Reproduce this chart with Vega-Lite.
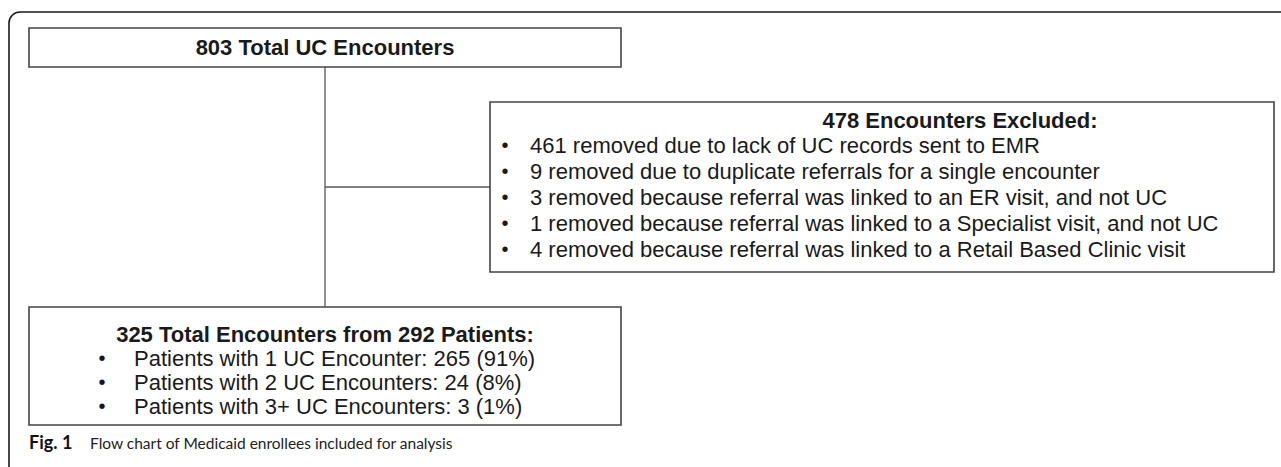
{
  "$schema": "https://vega.github.io/schema/vega-lite/v6.json",
  "width": 1281,
  "height": 467,
  "padding": 0,
  "autosize": {"type": "none"},
  "background": "white",
  "config": {"view": {"stroke": null}},
  "datasets": {
    "frame": [{"x": 9, "x2": 1400, "y": 12, "y2": 600}],
    "boxes": [
      {"box": "total", "x": 29, "x2": 621, "y": 28, "y2": 67},
      {"box": "excluded", "x": 490, "x2": 1274, "y": 102, "y2": 272},
      {"box": "included", "x": 29, "x2": 621, "y": 307, "y2": 425}
    ],
    "links": [
      {"link": "down", "x": 325, "x2": 325, "y": 67, "y2": 307},
      {"link": "side", "x": 325, "x2": 490, "y": 187, "y2": 187}
    ],
    "titles": [
      {"box": "total", "label": "803 Total UC Encounters", "x": 325, "y": 48},
      {"box": "excluded", "label": "478 Encounters Excluded:", "x": 960, "y": 121},
      {"box": "included", "label": "325 Total Encounters from 292 Patients:", "x": 325, "y": 335}
    ],
    "items": [
      {"box": "excluded", "label": "461 removed due to lack of UC records sent to EMR", "bx": 505, "x": 530, "y": 146},
      {"box": "excluded", "label": "9 removed due to duplicate referrals for a single encounter", "bx": 505, "x": 530, "y": 172},
      {"box": "excluded", "label": "3 removed because referral was linked to an ER visit, and not UC", "bx": 505, "x": 530, "y": 198},
      {"box": "excluded", "label": "1 removed because referral was linked to a Specialist visit, and not UC", "bx": 505, "x": 530, "y": 224},
      {"box": "excluded", "label": "4 removed because referral was linked to a Retail Based Clinic visit", "bx": 505, "x": 530, "y": 250},
      {"box": "included", "label": "Patients with 1 UC Encounter: 265 (91%)", "bx": 102, "x": 134, "y": 359},
      {"box": "included", "label": "Patients with 2 UC Encounters: 24 (8%)", "bx": 102, "x": 134, "y": 383},
      {"box": "included", "label": "Patients with 3+ UC Encounters: 3 (1%)", "bx": 102, "x": 134, "y": 407}
    ],
    "caption": [
      {"part": "Fig. 1", "x": 29, "y": 444},
      {"part": "Flow chart of Medicaid enrollees included for analysis", "x": 90, "y": 444}
    ]
  },
  "encoding": {
    "x": {"type": "quantitative", "scale": {"domain": [0, 1281], "nice": false, "zero": false}, "axis": null},
    "y": {"type": "quantitative", "scale": {"domain": [0, 467], "nice": false, "zero": false, "reverse": true}, "axis": null}
  },
  "layer": [
    {
      "data": {"name": "frame"},
      "mark": {"type": "rect", "fill": null, "stroke": "#1a1a1a", "strokeWidth": 1.6, "cornerRadius": 11, "clip": true},
      "encoding": {"x": {"field": "x", "type": "quantitative"}, "x2": {"field": "x2"}, "y": {"field": "y", "type": "quantitative"}, "y2": {"field": "y2"}}
    },
    {
      "data": {"name": "links"},
      "mark": {"type": "rule", "stroke": "#555555", "strokeWidth": 1.3},
      "encoding": {"x": {"field": "x", "type": "quantitative"}, "x2": {"field": "x2"}, "y": {"field": "y", "type": "quantitative"}, "y2": {"field": "y2"}}
    },
    {
      "data": {"name": "boxes"},
      "mark": {"type": "rect", "fill": "white", "stroke": "#444444", "strokeWidth": 1.6},
      "encoding": {"x": {"field": "x", "type": "quantitative"}, "x2": {"field": "x2"}, "y": {"field": "y", "type": "quantitative"}, "y2": {"field": "y2"}}
    },
    {
      "data": {"name": "titles"},
      "mark": {"type": "text", "font": "Liberation Sans", "fontWeight": "bold", "fontSize": 22, "align": "center", "baseline": "middle", "color": "#1a1a1a"},
      "encoding": {"x": {"field": "x", "type": "quantitative"}, "y": {"field": "y", "type": "quantitative"}, "text": {"field": "label"}}
    },
    {
      "data": {"name": "items"},
      "mark": {"type": "text", "font": "Liberation Sans", "fontSize": 20, "align": "center", "baseline": "middle", "color": "#1a1a1a"},
      "encoding": {"x": {"field": "bx", "type": "quantitative"}, "y": {"field": "y", "type": "quantitative"}, "text": {"value": "•"}}
    },
    {
      "data": {"name": "items"},
      "mark": {"type": "text", "font": "Liberation Sans", "fontSize": 22, "align": "left", "baseline": "middle", "color": "#1a1a1a"},
      "encoding": {"x": {"field": "x", "type": "quantitative"}, "y": {"field": "y", "type": "quantitative"}, "text": {"field": "label"}}
    },
    {
      "data": {"name": "caption"},
      "transform": [{"filter": "datum.part === 'Fig. 1'"}],
      "mark": {"type": "text", "font": "Lato", "fontWeight": "bold", "fontSize": 18, "align": "left", "baseline": "middle", "color": "#111111"},
      "encoding": {"x": {"field": "x", "type": "quantitative"}, "y": {"field": "y", "type": "quantitative"}, "text": {"field": "part"}}
    },
    {
      "data": {"name": "caption"},
      "transform": [{"filter": "datum.part !== 'Fig. 1'"}],
      "mark": {"type": "text", "font": "Lato", "fontSize": 15.5, "align": "left", "baseline": "middle", "color": "#222222"},
      "encoding": {"x": {"field": "x", "type": "quantitative"}, "y": {"field": "y", "type": "quantitative"}, "text": {"field": "part"}}
    }
  ]
}
